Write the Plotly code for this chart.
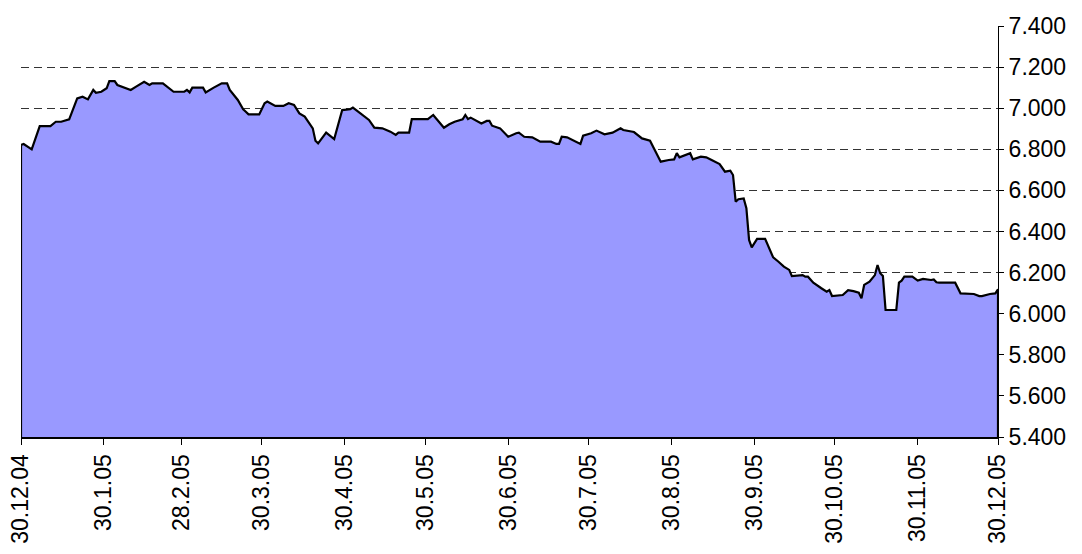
import plotly.graph_objects as go

# Daily rate series
dates = [
    "2004-12-30", "2004-12-31", "2005-01-03", "2005-01-06", "2005-01-10", "2005-01-12",
    "2005-01-14", "2005-01-17", "2005-01-20", "2005-01-22", "2005-01-24", "2005-01-26",
    "2005-01-27", "2005-01-29", "2005-01-31", "2005-02-01", "2005-02-03", "2005-02-04",
    "2005-02-09", "2005-02-11", "2005-02-14", "2005-02-16", "2005-02-17", "2005-02-21",
    "2005-02-25", "2005-03-01", "2005-03-02", "2005-03-03", "2005-03-04", "2005-03-08",
    "2005-03-09", "2005-03-12", "2005-03-14", "2005-03-15", "2005-03-17", "2005-03-18",
    "2005-03-21", "2005-03-23", "2005-03-24", "2005-03-25", "2005-03-29", "2005-03-31",
    "2005-04-01", "2005-04-04", "2005-04-07", "2005-04-09", "2005-04-11", "2005-04-13",
    "2005-04-15", "2005-04-18", "2005-04-19", "2005-04-20", "2005-04-23", "2005-04-26",
    "2005-04-29", "2005-05-02", "2005-05-03", "2005-05-06", "2005-05-09", "2005-05-11",
    "2005-05-14", "2005-05-17", "2005-05-19", "2005-05-20", "2005-05-24", "2005-05-25",
    "2005-05-31", "2005-06-02", "2005-06-06", "2005-06-08", "2005-06-10", "2005-06-13",
    "2005-06-14", "2005-06-15", "2005-06-16", "2005-06-20", "2005-06-22", "2005-06-23",
    "2005-06-24", "2005-06-27", "2005-06-30", "2005-07-03", "2005-07-04", "2005-07-06",
    "2005-07-09", "2005-07-12", "2005-07-16", "2005-07-18", "2005-07-19", "2005-07-20",
    "2005-07-22", "2005-07-27", "2005-07-28", "2005-07-31", "2005-08-02", "2005-08-05",
    "2005-08-08", "2005-08-11", "2005-08-12", "2005-08-16", "2005-08-19", "2005-08-22",
    "2005-08-26", "2005-08-29", "2005-08-31", "2005-09-01", "2005-09-02", "2005-09-06",
    "2005-09-07", "2005-09-10", "2005-09-12", "2005-09-14", "2005-09-17", "2005-09-19",
    "2005-09-21", "2005-09-22", "2005-09-23", "2005-09-24", "2005-09-26", "2005-09-27",
    "2005-09-28", "2005-09-29", "2005-10-01", "2005-10-04", "2005-10-05", "2005-10-07",
    "2005-10-09", "2005-10-11", "2005-10-13", "2005-10-14", "2005-10-18", "2005-10-19",
    "2005-10-20", "2005-10-22", "2005-10-25", "2005-10-27", "2005-10-28", "2005-10-29",
    "2005-11-02", "2005-11-04", "2005-11-06", "2005-11-08", "2005-11-09", "2005-11-10",
    "2005-11-12", "2005-11-14", "2005-11-15", "2005-11-16", "2005-11-17", "2005-11-18",
    "2005-11-22", "2005-11-23", "2005-11-24", "2005-11-25", "2005-11-28", "2005-11-30",
    "2005-12-02", "2005-12-05", "2005-12-06", "2005-12-07", "2005-12-08", "2005-12-14",
    "2005-12-16", "2005-12-21", "2005-12-23", "2005-12-24", "2005-12-27", "2005-12-29",
    "2005-12-30",
]
values = [
    6.821, 6.826, 6.800, 6.913, 6.913, 6.934,
    6.934, 6.946, 7.048, 7.056, 7.043, 7.089,
    7.075, 7.080, 7.097, 7.132, 7.132, 7.113,
    7.089, 7.105, 7.129, 7.113, 7.121, 7.121,
    7.080, 7.080, 7.089, 7.077, 7.100, 7.100,
    7.077, 7.100, 7.113, 7.121, 7.121, 7.089,
    7.040, 6.995, 6.983, 6.970, 6.970, 7.024,
    7.032, 7.011, 7.011, 7.024, 7.016, 6.975,
    6.959, 6.902, 6.842, 6.829, 6.881, 6.850,
    6.991, 6.995, 7.003, 6.975, 6.943, 6.905,
    6.902, 6.886, 6.870, 6.881, 6.881, 6.947,
    6.947, 6.967, 6.905, 6.922, 6.934, 6.946,
    6.967, 6.947, 6.954, 6.926, 6.938, 6.938,
    6.915, 6.902, 6.861, 6.878, 6.881, 6.861,
    6.858, 6.837, 6.837, 6.826, 6.826, 6.861,
    6.858, 6.826, 6.866, 6.878, 6.891, 6.873,
    6.881, 6.902, 6.894, 6.884, 6.853, 6.842,
    6.740, 6.748, 6.751, 6.781, 6.761, 6.781,
    6.751, 6.764, 6.761, 6.748, 6.728, 6.691,
    6.696, 6.675, 6.545, 6.557, 6.561, 6.513,
    6.359, 6.323, 6.364, 6.364, 6.334, 6.274,
    6.253, 6.229, 6.213, 6.183, 6.188, 6.180,
    6.180, 6.151, 6.124, 6.107, 6.115, 6.086,
    6.091, 6.115, 6.110, 6.102, 6.075, 6.140,
    6.156, 6.188, 6.237, 6.197, 6.183, 6.018,
    6.018, 6.151, 6.161, 6.180, 6.180, 6.161,
    6.169, 6.164, 6.167, 6.153, 6.151, 6.151,
    6.099, 6.096, 6.086, 6.086, 6.096, 6.099,
    6.119,
]

tick_dates = [
    "2004-12-30", "2005-01-30", "2005-02-28", "2005-03-30", "2005-04-30", "2005-05-30",
    "2005-06-30", "2005-07-30", "2005-08-30", "2005-09-30", "2005-10-30", "2005-11-30",
    "2005-12-30",
]
tick_labels = [
    "30.12.04", "30.1.05", "28.2.05", "30.3.05", "30.4.05", "30.5.05",
    "30.6.05", "30.7.05", "30.8.05", "30.9.05", "30.10.05", "30.11.05",
    "30.12.05",
]

y_min, y_max, y_step = 5.4, 7.4, 0.2

# closed polygon so the border runs down to the axis floor like the original area chart
poly_x = [dates[0]] + dates + [dates[-1]]
poly_y = [y_min] + values + [y_min]

fig = go.Figure()
fig.add_trace(go.Scatter(
    x=poly_x, y=poly_y, mode="lines", fill="toself",
    fillcolor="#9999FF", line=dict(color="black", width=2.2),
    hoverinfo="skip", showlegend=False,
))

font = dict(family="Liberation Sans, Arial, sans-serif", size=23, color="black")

fig.update_layout(
    width=1082, height=554,
    margin=dict(l=13, r=92, t=18, b=125, autoexpand=False),
    paper_bgcolor="white", plot_bgcolor="white",
    font=font, showlegend=False,
)
fig.update_xaxes(
    type="date", range=[tick_dates[0], tick_dates[-1]], automargin=False,
    tickmode="array", tickvals=tick_dates, ticktext=tick_labels,
    tickangle=-90, ticks="outside", ticklen=6, tickcolor="black", tickwidth=1,
    ticklabeloverflow="allow",
    showline=True, linecolor="black", linewidth=2,
    showgrid=False, zeroline=False, tickfont=font,
)
fig.update_yaxes(
    side="right", range=[y_min, y_max], dtick=y_step, tick0=y_min, automargin=False,
    tickformat=".3f", ticks="outside", ticklen=5, tickcolor="black", tickwidth=1,
    ticklabelstandoff=0, ticklabeloverflow="allow",
    showline=True, linecolor="black", linewidth=1,
    showgrid=True, gridcolor="#333333", gridwidth=1, griddash="8px,5px",
    zeroline=False, tickfont=font,
)

fig.write_html("out.html")
